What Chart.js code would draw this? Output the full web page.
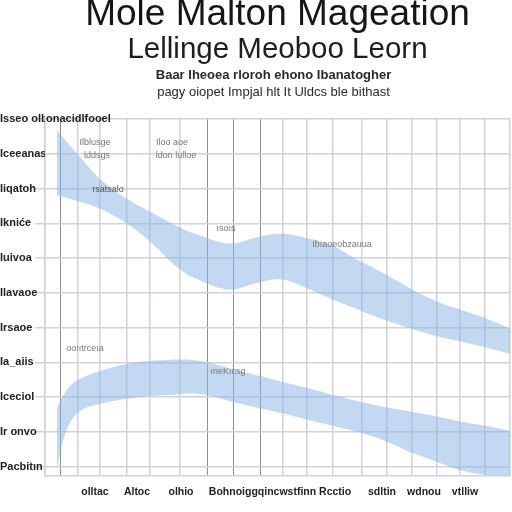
<!DOCTYPE html>
<html>
<head>
<meta charset="utf-8">
<title>Mole Malton Mageation</title>
<script src="https://cdn.jsdelivr.net/npm/chart.js@4.4.1/dist/chart.umd.min.js"></script>
<style>
    body { margin: 0; background: #fff; }
    #wrap { width: 512px; height: 512px; }
</style>
</head>
<body>
<div id="wrap"><canvas id="myChart"></canvas></div>
<script>
// header text
var titleText = 'Mole Malton Mageation';
var subtitleText = 'Lellinge Meoboo Leorn';
var headNotes = ['Baar Iheoea rloroh ehono Ibanatogher', 'pagy oiopet Impjal hlt It Uldcs ble bithast'];

// axes
var xGrid = [45, 60, 78, 100, 127, 150, 180, 207, 233, 260, 283, 307, 333, 362, 387, 412, 437, 460, 485, 510];
var xDark = [60, 207, 233, 260];
var xLabelPos = [95, 137, 181, 280, 382, 424, 465];
var xLabels = ['olltac', 'Altoc', 'olhio', 'Bohnoiggqincwstfinn Rcctio', 'sdltin', 'wdnou', 'vtlliw'];
var yGrid = [0, 1, 2, 3, 4, 5, 6, 7, 8, 9, 10];
var yLabels = ['Pacbitın', 'Ir onvo', 'Iceciol', 'Ia_aiis', 'Irsaoe', 'Ilavaoe', 'Iuivoa', 'Ikniće', 'Iiqatoh', 'Iceeanas', 'Isseo olb'];
var yTopOverflow = 'onacidlfooel'; // rest of the top label, runs into the plot

// upper band
var upX = [57, 80, 100, 127, 150, 180, 200, 230, 255, 280, 305, 330, 355, 380, 430, 480, 510];
var upTop = [9.68, 8.91, 8.28, 7.71, 7.34, 6.88, 6.65, 6.42, 6.59, 6.70, 6.59, 6.39, 5.99, 5.62, 4.84, 4.33, 3.98];
var upBottom = [7.82, 7.62, 7.42, 6.99, 6.48, 5.67, 5.36, 5.10, 5.27, 5.39, 5.16, 4.84, 4.56, 4.27, 3.81, 3.47, 3.24];

// lower band
var lowX = [57, 63, 70, 80, 100, 133, 167, 200, 240, 280, 312, 345, 380, 412, 440, 462, 490, 510];
var lowTop = [1.69, 2.03, 2.32, 2.52, 2.75, 2.98, 3.07, 3.04, 2.75, 2.46, 2.23, 1.98, 1.75, 1.58, 1.43, 1.29, 1.15, 1.03];
var lowBottom = [-0.03, 0.74, 1.26, 1.60, 1.81, 1.98, 2.06, 2.09, 1.81, 1.55, 1.32, 1.09, 0.80, 0.40, 0.11, -0.11, -0.26, -0.34];

// small notes inside the plot
var noteX = [95, 172, 97, 176, 108, 342, 226, 85, 228];
var noteY = [9.34, 9.34, 8.94, 8.94, 7.97, 6.39, 6.85, 3.41, 2.75];
var noteText = ['Ilblusge', 'Iloo aoe', 'lddsgs', 'ldon lulloe', 'rsatsalo', 'Ibıaoeobzauua', 'ısoıs', 'ooııtrceıa', 'ıneKıcsg'];

var BAND = 'rgba(140, 180, 228, 0.52)';
var GRID = '#cfd2d8';

function pts(xs, ys) {
    return xs.map(function (x, i) { return { x: x, y: ys[i] }; });
}

var notesPlugin = {
    id: 'notes',
    afterDraw: function (chart) {
        var c = chart.ctx;
        var xs = chart.scales.x, ys = chart.scales.y;
        var mid = (chart.chartArea.left + chart.chartArea.right) / 2;
        c.save();
        c.fillStyle = '#2a2a2a';
        c.textAlign = 'center';
        c.textBaseline = 'middle';
        c.font = 'bold 13px "Liberation Sans"';
        c.fillText(headNotes[0], mid - 4, 75);
        c.font = '13px "Liberation Sans"';
        c.fillText(headNotes[1], mid - 4, 92);

        // end of the long top tick label
        c.fillStyle = '#222';
        c.textAlign = 'left';
        c.font = 'bold 11px "Liberation Sans"';
        c.fillText(yTopOverflow, xs.left + 1, ys.getPixelForValue(yGrid[yGrid.length - 1]));

        c.textAlign = 'center';
        c.font = '9px "Liberation Sans"';
        for (var i = 0; i < noteX.length; i++) {
            c.fillStyle = i === 4 ? '#555' : '#777';
            c.fillText(noteText[i], xs.getPixelForValue(noteX[i]), ys.getPixelForValue(noteY[i]));
        }
        c.restore();
    }
};

var config = {
    type: 'line',
    data: {
        datasets: [
            { data: pts(upX, upTop), borderWidth: 0, pointRadius: 0, fill: false, tension: 0.4 },
            { data: pts(upX, upBottom), borderWidth: 0, pointRadius: 0, fill: '-1', backgroundColor: BAND, tension: 0.4 },
            { data: pts(lowX, lowTop), borderWidth: 0, pointRadius: 0, fill: false, tension: 0.4 },
            { data: pts(lowX, lowBottom), borderWidth: 0, pointRadius: 0, fill: '-1', backgroundColor: BAND, tension: 0.4 }
        ]
    },
    options: {
        responsive: true,
        maintainAspectRatio: false,
        animation: false,
        layout: { padding: { left: 0, right: 2, top: 0, bottom: 12 } },
        plugins: {
            legend: { display: false },
            tooltip: { enabled: false },
            title: {
                display: true,
                text: titleText,
                fullSize: false,
                color: '#161616',
                font: { family: 'Liberation Sans', size: 37, weight: 'normal', lineHeight: 0.8 },
                padding: { top: 0, bottom: 2 }
            },
            subtitle: {
                display: true,
                text: subtitleText,
                fullSize: false,
                color: '#1e1e1e',
                font: { family: 'Liberation Sans', size: 29.5, weight: 'normal', lineHeight: 1 },
                padding: { top: 4, bottom: 54 }
            }
        },
        scales: {
            x: {
                type: 'linear',
                min: 45,
                max: 510,
                afterBuildTicks: function (axis) {
                    axis.ticks = xGrid.map(function (v) { return { value: v }; });
                },
                ticks: { display: false },
                grid: {
                    drawTicks: false,
                    color: function (ctx) { return xDark.indexOf(ctx.tick && ctx.tick.value) >= 0 ? '#8c8f96' : GRID; },
                    lineWidth: function (ctx) { return xDark.indexOf(ctx.tick && ctx.tick.value) >= 0 ? 1 : 1.5; }
                },
                border: { color: GRID, width: 1.5 }
            },
            xl: {
                type: 'linear',
                position: 'bottom',
                min: 45,
                max: 510,
                afterBuildTicks: function (axis) {
                    axis.ticks = xLabelPos.map(function (v) { return { value: v }; });
                },
                ticks: {
                    autoSkip: false,
                    maxRotation: 0,
                    padding: 2,
                    color: '#222',
                    font: { family: 'Liberation Sans', size: 10.5, weight: 'bold' },
                    callback: function (v, i) { return xLabels[i]; }
                },
                grid: { display: false },
                border: { display: false }
            },
            y: {
                min: -0.25,
                max: 10,
                afterBuildTicks: function (axis) {
                    axis.ticks = yGrid.map(function (v) { return { value: v }; });
                },
                afterFit: function (axis) { axis.width = 45; },
                ticks: {
                    crossAlign: 'far',
                    color: '#222',
                    font: { family: 'Liberation Sans', size: 11, weight: 'bold' },
                    callback: function (v, i) { return yLabels[i]; }
                },
                grid: { color: GRID, lineWidth: 1.5, tickLength: 10 },
                border: { color: GRID, width: 1.5 }
            }
        }
    },
    plugins: [notesPlugin]
};

var myChart = new Chart(document.getElementById('myChart'), config);
</script>
</body>
</html>
